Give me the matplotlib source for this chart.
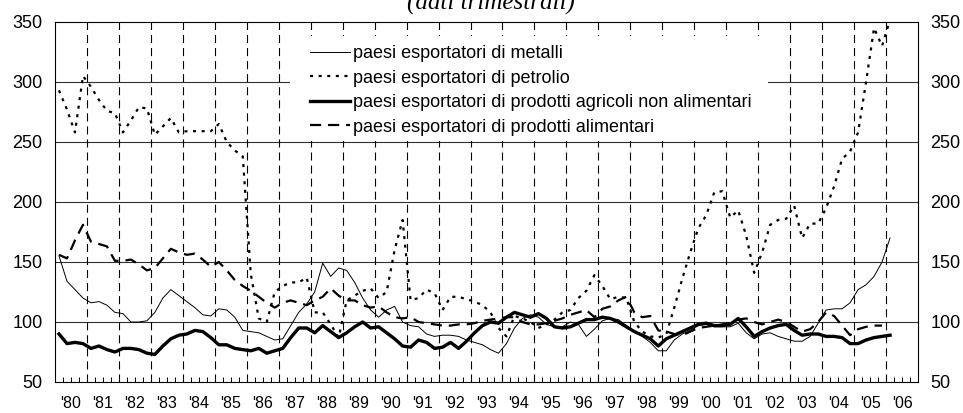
import matplotlib
matplotlib.use("Agg")
import matplotlib.pyplot as plt
from matplotlib.patches import Rectangle
import numpy as np

plt.rcParams["font.family"] = ["Liberation Sans", "DejaVu Sans"]
plt.rcParams["lines.scale_dashes"] = False

# quarterly data, 1980Q1 - 2006Q1
metalli = [155, 134, 127, 120, 116, 117, 114, 108, 107, 100, 100, 101,
           108, 120, 127, 122, 117, 112, 106, 105, 111, 110, 104, 93,
           92, 91, 88, 85, 86, 97, 108, 115, 125, 149, 138, 145,
           143, 133, 120, 110, 104, 110, 113, 100, 97, 96, 90, 88,
           89, 89, 88, 85, 83, 81, 77, 74, 82, 95, 103, 106,
           104, 98, 96, 96, 100, 98, 88, 94, 101, 103, 102, 97,
           92, 88, 83, 76, 76, 85, 90, 93, 97, 98, 96, 96,
           96, 99, 91, 86, 90, 91, 88, 86, 84, 84, 88, 99,
           110, 111, 111, 116, 127, 131, 138, 150, 170]
petrolio = [293, 277, 258, 305, 296, 285, 276, 274, 258, 268, 279, 278,
            256, 263, 270, 258, 259, 259, 259, 259, 265, 250, 243, 238,
            140, 103, 100, 125, 130, 133, 133, 137, 108, 108, 98, 87,
            118, 122, 126, 128, 120, 125, 160, 185, 118, 120, 127, 124,
            110, 121, 121, 119, 117, 114, 108, 95, 88, 105, 103, 100,
            95, 98, 102, 108, 110, 120, 126, 139, 130, 119, 121, 120,
            100, 92, 88, 87, 90, 112, 136, 158, 178, 189, 208, 209,
            187, 193, 172, 141, 158, 181, 185, 186, 197, 170, 182, 182,
            195, 213, 236, 242, 258, 300, 345, 330, 352]
agricoli = [90, 82, 83, 82, 78, 80, 77, 75, 78, 78, 77, 74,
            73, 80, 86, 89, 90, 93, 92, 87, 81, 81, 78, 77,
            76, 78, 74, 76, 78, 87, 95, 95, 91, 97, 92, 87,
            91, 96, 100, 95, 96, 91, 86, 80, 79, 85, 83, 78,
            79, 83, 78, 84, 91, 97, 100, 99, 104, 108, 106, 104,
            107, 103, 96, 95, 96, 99, 102, 102, 104, 103, 100, 96,
            92, 89, 86, 80, 86, 89, 92, 95, 98, 99, 97, 97,
            98, 103, 96, 88, 92, 95, 97, 98, 93, 89, 90, 90,
            88, 88, 87, 82, 82, 85, 87, 88, 89]
alimentari = [156, 153, 168, 181, 167, 165, 163, 151, 151, 152, 148, 143,
              145, 153, 161, 158, 156, 157, 152, 146, 150, 143, 135, 130,
              126, 121, 116, 112, 116, 118, 116, 114, 118, 121, 128, 122,
              118, 118, 114, 112, 113, 108, 104, 103, 104, 100, 99, 98,
              97, 97, 98, 98, 99, 101, 102, 103, 104, 104, 100, 98,
              98, 99, 101, 103, 106, 108, 110, 104, 111, 113, 118, 121,
              108, 104, 105, 93, 92, 90, 89, 92, 95, 96, 97, 98,
              99, 102, 103, 100, 98, 100, 102, 100, 96, 92, 94, 100,
              108, 105, 97, 89, 94, 96, 97, 97, np.nan]

labels = ["paesi esportatori di metalli",
          "paesi esportatori di petrolio",
          "paesi esportatori di prodotti agricoli non alimentari",
          "paesi esportatori di prodotti alimentari"]
years = list(range(1980, 2007))
year_labels = ["'" + str(y)[2:] for y in years]
y_ticks = [50, 100, 150, 200, 250, 300, 350]

t = 1980 + (np.arange(len(metalli)) + 0.5) / 4

fig = plt.figure(figsize=(9.63, 4.13), dpi=100)
ax = fig.add_axes([55 / 963, 31 / 413, 863 / 963, 360 / 413])

ax.plot(t, metalli, color="black", lw=0.7, label=labels[0], zorder=3)
ax.plot(t, petrolio, color="black", lw=1.6, dashes=(2.2, 4.0), label=labels[1], zorder=3)
ax.plot(t, agricoli, color="black", lw=2.4, label=labels[2], zorder=3)
ax.plot(t, alimentari, color="black", lw=1.6, dashes=(8, 5), label=labels[3], zorder=3)

ax.set_xlim(1980, 2007)
ax.set_ylim(50, 350)

# grid
for v in y_ticks[1:-1]:
    ax.axhline(v, color="#303030", lw=0.8, zorder=1)
for y in years[1:]:
    ax.axvline(y, color="black", lw=0.8, dashes=(5.8, 3.6), zorder=1)

ax.set_yticks(y_ticks)
ax.tick_params(axis="y", length=0, labelsize=13, pad=9, labelright=True, right=False)
ax.set_xticks([y + 0.5 for y in years])
ax.set_xticklabels(year_labels)
quarters = [y + q / 4 for y in years for q in (0, 1, 3)] + [2007]
ax.set_xticks(quarters, minor=True)
ax.tick_params(axis="x", which="both", direction="in", length=3.6, width=0.7,
               labelsize=11.5, pad=10)
for s in ax.spines.values():
    s.set_linewidth(0.8)

# white patch behind the legend, hiding the grid
ax.add_patch(Rectangle((0.272, 0.669), 0.554, 0.292, transform=ax.transAxes,
                       facecolor="white", edgecolor="none", zorder=2))
leg = ax.legend(loc="upper left", bbox_to_anchor=(0.2955, 0.936), fontsize=13,
                frameon=False, handlelength=2.2, handletextpad=0.2, labelspacing=0.42,
                borderpad=0, borderaxespad=0)
leg.set_zorder(5)

fig.text(0.51, 1 - 10 / 413, "(dati trimestrali)", family="Liberation Serif",
         style="italic", fontsize=18, ha="center", va="baseline")

fig.savefig("out.png", dpi=100)
